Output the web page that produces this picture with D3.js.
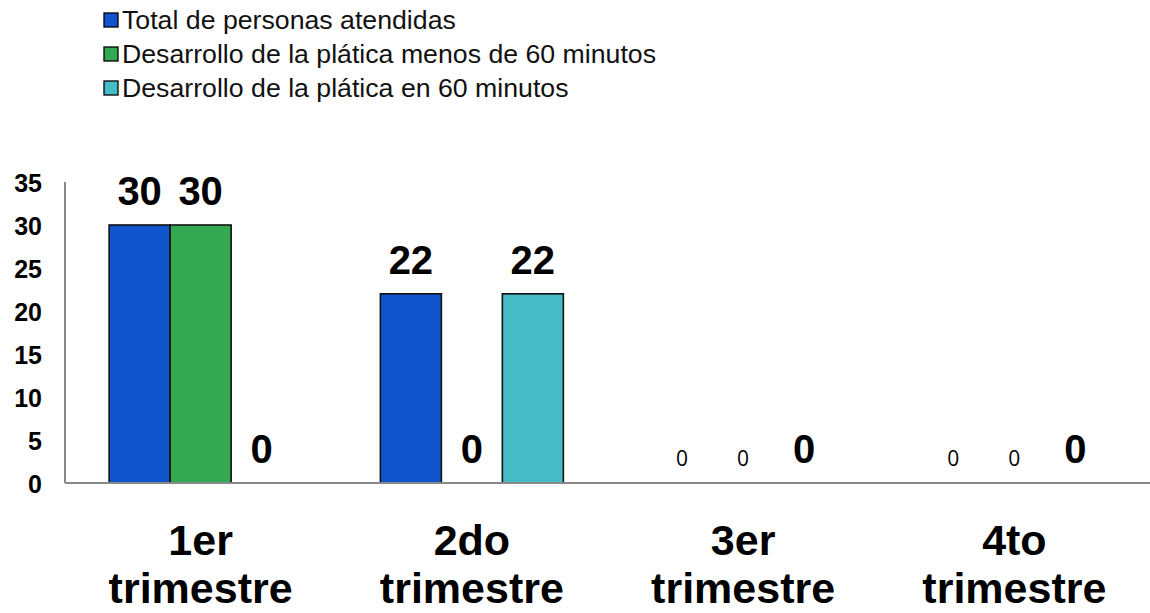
<!DOCTYPE html>
<html lang="es">
<head>
<meta charset="utf-8">
<script src="https://cdn.jsdelivr.net/npm/d3@7"></script>
<style>
  html, body { margin: 0; padding: 0; background: #fff; }
  svg { display: block; }
  text { font-family: "Liberation Sans", Arial, sans-serif; fill: #000; }
</style>
</head>
<body>
<svg id="chart" width="1150" height="613"></svg>
<script>
// Quarters on the category axis
const quarters = ["1er trimestre", "2do trimestre", "3er trimestre", "4to trimestre"];

// Series names, in legend order
const seriesNames = [
  "Total de personas atendidas",
  "Desarrollo de la plática menos de 60 minutos",
  "Desarrollo de la plática en 60 minutos"
];

// Values per quarter, one array per series
const totalAtendidas = [30, 22, 0, 0];
const platicaMenos60 = [30, 0, 0, 0];
const platicaEn60 = [0, 22, 0, 0];

// Value axis ticks
const yTicks = [0, 5, 10, 15, 20, 25, 30, 35];

const seriesValues = [totalAtendidas, platicaMenos60, platicaEn60];
const colors = ["#1155CC", "#34A853", "#46BDC6"];

// Labels drawn in the plain small style (series index x quarter)
const plainLabelSeries = [0, 1];
const plainLabelQuarters = ["3er trimestre", "4to trimestre"];

const svg = d3.select("#chart");

const plot = { left: 65, right: 1150, top: 182, bottom: 483 };

const x0 = d3.scaleBand()
  .domain(quarters)
  .range([plot.left, plot.right])
  .paddingInner(0)
  .paddingOuter(0);

const bw = x0.bandwidth();
const x1 = d3.scaleBand()
  .domain(d3.range(seriesNames.length))
  .range([bw * 0.1627, bw * 0.8373])
  .padding(0);

const y = d3.scaleLinear()
  .domain([0, 35])
  .range([plot.bottom, plot.top]);

// Flattened cells for bars and labels
const cells = [];
quarters.forEach((q, qi) => {
  seriesValues.forEach((vals, si) => {
    cells.push({ quarter: q, qi, si, value: vals[qi] });
  });
});

// Y tick labels (no tick marks)
const yAxis = d3.axisLeft(y).tickValues(yTicks).tickSize(0).tickPadding(0);
const yG = svg.append("g")
  .attr("transform", `translate(42,0)`)
  .call(yAxis);
yG.select(".domain").remove();
yG.selectAll("text")
  .attr("x", 0)
  .attr("dy", "0.36em")
  .style("font-family", "'Liberation Sans', Arial, sans-serif")
  .style("font-size", "25px")
  .style("font-weight", "bold")
  .attr("fill", "#000");

// Bars
svg.append("g")
  .selectAll("rect")
  .data(cells)
  .join("rect")
  .attr("x", d => x0(d.quarter) + x1(d.si))
  .attr("y", d => y(d.value))
  .attr("width", x1.bandwidth())
  .attr("height", d => y(0) - y(d.value))
  .attr("fill", d => colors[d.si])
  .attr("stroke", d => d.value > 0 ? "#111" : "none")
  .attr("stroke-width", 1.6);

// Axis lines
const axisColor = "#898989";
svg.append("line")
  .attr("x1", plot.left).attr("x2", plot.left)
  .attr("y1", y(35)).attr("y2", y(0))
  .attr("stroke", axisColor).attr("stroke-width", 2);
svg.append("line")
  .attr("x1", plot.left).attr("x2", plot.right)
  .attr("y1", y(0)).attr("y2", y(0))
  .attr("stroke", axisColor).attr("stroke-width", 2);

// Value labels
const isPlain = d => plainLabelSeries.includes(d.si) && plainLabelQuarters.includes(d.quarter);
svg.append("g")
  .selectAll("text")
  .data(cells)
  .join("text")
  .attr("x", d => x0(d.quarter) + x1(d.si) + x1.bandwidth() / 2)
  .attr("y", d => isPlain(d) ? y(d.value) - 17 : y(d.value) - 20)
  .attr("text-anchor", "middle")
  .style("font-family", d => isPlain(d) ? "'Open Sans', 'DejaVu Sans', sans-serif" : "'Liberation Sans', Arial, sans-serif")
  .style("font-size", d => isPlain(d) ? "21px" : "40px")
  .style("font-weight", d => isPlain(d) ? "normal" : "bold")
  .text(d => d.value);

// Category labels on two lines
const catG = svg.append("g");
quarters.forEach(q => {
  const parts = q.split(" ");
  const t = catG.append("text")
    .attr("x", x0(q) + bw / 2)
    .attr("y", 555)
    .attr("text-anchor", "middle")
    .style("font-size", "43px")
    .style("font-weight", "bold");
  parts.forEach((p, i) => {
    t.append("tspan")
      .attr("x", x0(q) + bw / 2)
      .attr("dy", i === 0 ? 0 : 48)
      .text(p);
  });
});

// Legend
const legend = svg.append("g");
seriesNames.forEach((name, i) => {
  const base = 29 + i * 34;
  legend.append("rect")
    .attr("x", 104)
    .attr("y", base - 16)
    .attr("width", 14)
    .attr("height", 14)
    .attr("fill", colors[i])
    .attr("stroke", "#000")
    .attr("stroke-width", 1.3);
  legend.append("text")
    .attr("x", 122)
    .attr("y", base)
    .style("font-size", "26.7px")
    .style("fill", "#111")
    .text(name);
});
</script>
</body>
</html>
